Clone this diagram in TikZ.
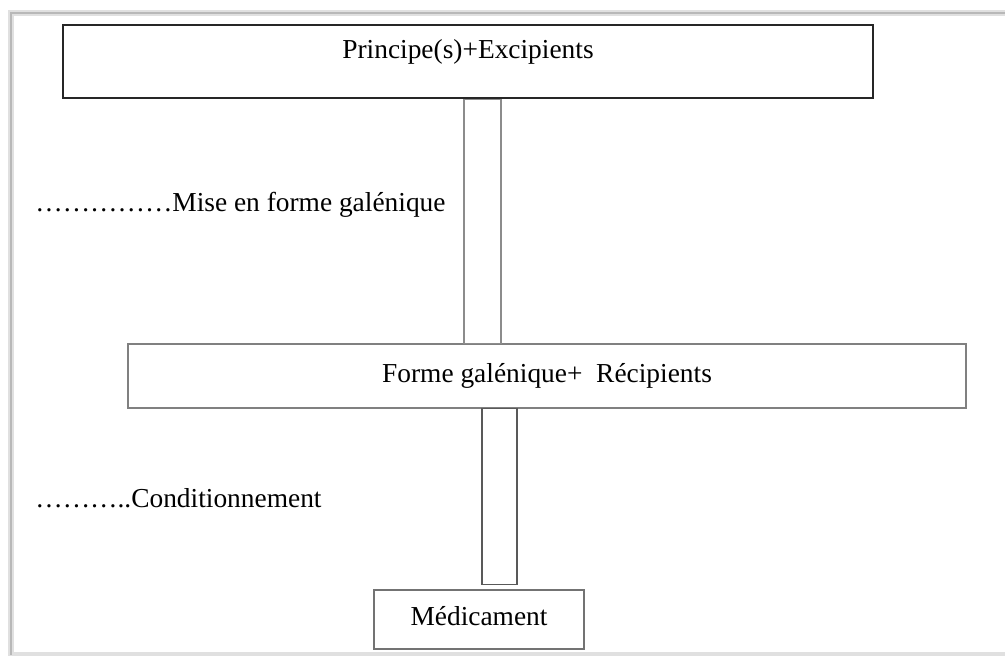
\documentclass[tikz,border=0pt]{standalone}
\usepackage{fontspec}
\setmainfont{Liberation Serif}
\usetikzlibrary{positioning}

\begin{document}
\begin{tikzpicture}[x=0.5pt,y=-0.5pt,font=\fontsize{13.7}{16}\selectfont,
  box/.style={rectangle,draw=black!50,fill=white,line width=0.75pt,inner sep=0pt},
  bar/.style={draw=black!45,line width=0.7pt}]
\useasboundingbox (0,0) rectangle (1005,656);
% page frame with its shadow
\draw[black!12,line width=3pt] (1005,13) -| (11,655) -- (1005,655);
\draw[black!28,line width=1pt] (1005,13) -| (11,655);
% boxes
\node[box,draw=black!85,line width=1.25pt,minimum width=405pt,text height=17pt,text depth=19.5pt](top) at (468,61.5){Principe(s)+Excipients};
\node[box,minimum width=419pt,text height=19.5pt,text depth=12.5pt](mid) at (547,376){Forme galénique+\ \ Récipients};
\node[box,draw=black!55,minimum width=105pt,text height=17.5pt,text depth=12pt](bot) at (479,619.5){Médicament};
% steps
\node[anchor=base west,inner sep=0pt](mise) at (35,212){……………Mise en forme galénique};
\node[anchor=base west,inner sep=0pt](cond) at (35,508){………..Conditionnement};
% bars between the boxes
\coordinate (barend) at ([yshift=2.5pt]bot.north);
\draw[bar] (464,0 |- top.south) rectangle (501,0 |- mid.north);
\draw[bar,draw=black!65] (482,0 |- mid.south) rectangle (517,0 |- barend);
\end{tikzpicture}
\end{document}
